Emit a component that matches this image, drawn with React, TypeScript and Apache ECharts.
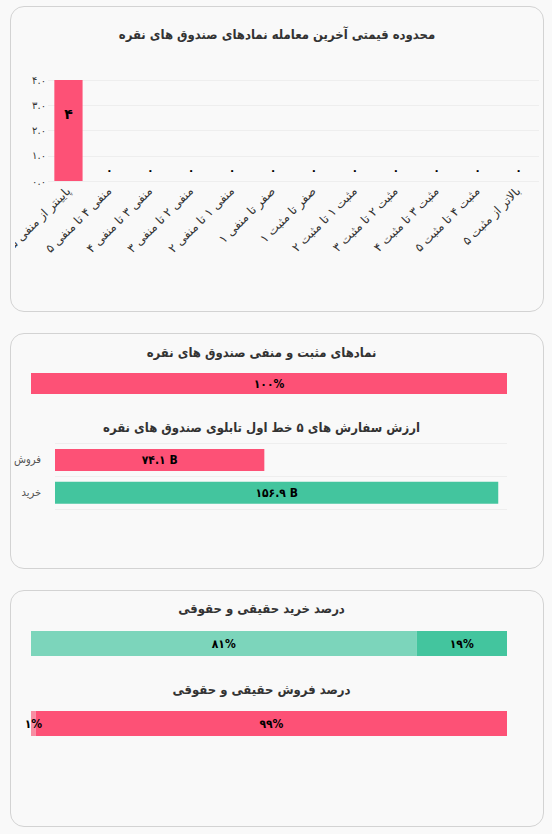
import React, { useEffect, useRef } from "react";
import * as echarts from "echarts";

// ---------- data ----------
const priceRangeTitle = "محدوده قیمتی آخرین معامله نمادهای صندوق های نقره";
const priceRangeCategories = [
  "پایینتر از منفی ۵",
  "منفی ۴ تا منفی ۵",
  "منفی ۳ تا منفی ۴",
  "منفی ۲ تا منفی ۳",
  "منفی ۱ تا منفی ۲",
  "صفر تا منفی ۱",
  "صفر تا مثبت ۱",
  "مثبت ۱ تا مثبت ۲",
  "مثبت ۲ تا مثبت ۳",
  "مثبت ۳ تا مثبت ۴",
  "مثبت ۴ تا مثبت ۵",
  "بالاتر از مثبت ۵",
];
const priceRangeCounts = [4, 0, 0, 0, 0, 0, 0, 0, 0, 0, 0, 0];

const posNegTitle = "نمادهای مثبت و منفی صندوق های نقره";
const posNegShare = [100];

const orderTitle = "ارزش سفارش های ۵ خط اول تابلوی صندوق های نقره";
const orderSides = ["فروش", "خرید"];
const orderValuesB = [74.1, 156.9];

const buyTitle = "درصد خرید حقیقی و حقوقی";
const buyShares = [81, 19];
const sellTitle = "درصد فروش حقیقی و حقوقی";
const sellShares = [1, 99];

// ---------- style ----------
const PINK = "#fd5176";
const PINK_LIGHT = "#f88da2";
const GREEN = "#43c59e";
const GREEN_LIGHT = "#7cd5bb";
const FONT = "DejaVu Sans";
const FONT_C = "DejaVu Sans Condensed";
const BG = "#f9f9f9";

const fa = (s: string) => s.replace(/\d/g, (d) => "۰۱۲۳۴۵۶۷۸۹"[+d]);

const titleText = (text: string, x: number, y: number) => ({
  type: "text",
  x,
  y,
  silent: true,
  style: {
    text,
    fill: "#333",
    font: `bold 13px "${FONT_C}", "${FONT}"`,
    align: "center",
    verticalAlign: "middle",
  },
});

function Chart({ option, style }: { option: any; style: React.CSSProperties }) {
  const ref = useRef<HTMLDivElement>(null);
  useEffect(() => {
    if (!ref.current) return;
    const chart = echarts.init(ref.current, undefined, { renderer: "svg" });
    chart.setOption(option);
    return () => chart.dispose();
  }, [option]);
  return <div ref={ref} style={{ position: "absolute", ...style }} />;
}

// chart 1 : container left 15, top 0
const option1 = {
  animation: false,
  textStyle: { fontFamily: FONT },
  graphic: [titleText(priceRangeTitle, 262, 34)],
  grid: { left: 33, right: 13, top: 80, bottom: 139, containLabel: false, outerBoundsMode: "none" },
  xAxis: {
    type: "category",
    data: priceRangeCategories,
    axisLine: { show: false },
    axisTick: { show: false },
    axisLabel: {
      interval: 0,
      rotate: 45,
      fontSize: 12,
      color: "#333",
      margin: 8,
      fontFamily: FONT,
    },
  },
  yAxis: {
    type: "value",
    min: 0,
    max: 4,
    interval: 1,
    axisLine: { show: false },
    axisTick: { show: false },
    splitLine: { lineStyle: { color: "#eeeeee" } },
    axisLabel: {
      fontSize: 10,
      color: "#333",
      margin: 2,
      fontFamily: FONT,
      formatter: (v: number) => fa(v.toFixed(1)),
    },
  },
  series: [
    {
      type: "bar",
      data: priceRangeCounts.map((v) =>
        v > 0
          ? {
              value: v,
              label: { position: ["50%", "34%"], align: "center", verticalAlign: "middle", fontSize: 14 },
            }
          : v
      ),
      itemStyle: { color: PINK },
      label: {
        show: true,
        position: "top",
        color: "#000",
        fontWeight: "bold",
        fontSize: 11,
        fontFamily: FONT,
        formatter: (p: any) => fa(String(p.value)),
      },
    },
  ],
};

// chart 2 : container left 0, top 320
const option2 = {
  animation: false,
  textStyle: { fontFamily: FONT },
  graphic: [titleText(posNegTitle, 261.5, 32), titleText(orderTitle, 261.5, 107)],
  grid: [
    { left: 31, right: 45, top: 53, height: 21, outerBoundsMode: "none" },
    { left: 55, right: 45, top: 123.5, height: 65.5, outerBoundsMode: "none" },
  ],
  xAxis: [
    { type: "value", gridIndex: 0, min: 0, max: 100, show: false },
    { type: "value", gridIndex: 1, min: 0, max: 160, show: false },
  ],
  yAxis: [
    { type: "category", gridIndex: 0, data: [""], show: false },
    {
      type: "category",
      gridIndex: 1,
      data: orderSides,
      inverse: true,
      axisLine: { show: false },
      axisTick: { show: false },
      splitLine: { show: true, lineStyle: { color: "#eeeeee" } },
      axisLabel: { fontSize: 11, color: "#555", margin: 14, fontFamily: FONT_C },
    },
  ],
  series: [
    {
      type: "bar",
      xAxisIndex: 0,
      yAxisIndex: 0,
      data: posNegShare,
      barWidth: 21,
      itemStyle: { color: PINK },
      label: {
        show: true,
        position: "inside",
        color: "#000",
        fontWeight: "bold",
        fontSize: 12,
        fontFamily: FONT_C,
        formatter: (p: any) => fa(String(p.value)) + "%",
      },
    },
    {
      type: "bar",
      xAxisIndex: 1,
      yAxisIndex: 1,
      barWidth: 22,
      data: orderValuesB.map((v, i) => ({
        value: v,
        itemStyle: { color: i === 0 ? PINK : GREEN },
      })),
      label: {
        show: true,
        position: "inside",
        color: "#000",
        fontWeight: "bold",
        fontSize: 12,
        fontFamily: FONT_C,
        formatter: (p: any) => fa(p.value.toFixed(1)) + " B",
      },
    },
  ],
};

// chart 3 : container left 0, top 580
const stackLabel = {
  show: true,
  position: "inside",
  color: "#000",
  fontWeight: "bold",
  fontSize: 12,
  fontFamily: FONT_C,
  formatter: (p: any) => fa(String(p.value)) + "%",
};
const option3 = {
  animation: false,
  textStyle: { fontFamily: FONT },
  graphic: [titleText(buyTitle, 261.5, 28), titleText(sellTitle, 261.5, 109)],
  grid: [
    { left: 31, right: 45, top: 51, height: 25, outerBoundsMode: "none" },
    { left: 31, right: 45, top: 131, height: 25, outerBoundsMode: "none" },
  ],
  xAxis: [
    { type: "value", gridIndex: 0, min: 0, max: 100, show: false },
    { type: "value", gridIndex: 1, min: 0, max: 100, show: false },
  ],
  yAxis: [
    { type: "category", gridIndex: 0, data: [""], show: false },
    { type: "category", gridIndex: 1, data: [""], show: false },
  ],
  series: [
    { type: "bar", stack: "buy", xAxisIndex: 0, yAxisIndex: 0, barWidth: 25, data: [buyShares[0]], itemStyle: { color: GREEN_LIGHT }, label: stackLabel },
    { type: "bar", stack: "buy", xAxisIndex: 0, yAxisIndex: 0, barWidth: 25, data: [buyShares[1]], itemStyle: { color: GREEN }, label: stackLabel },
    { type: "bar", stack: "sell", xAxisIndex: 1, yAxisIndex: 1, barWidth: 25, data: [sellShares[0]], itemStyle: { color: PINK_LIGHT }, label: stackLabel },
    { type: "bar", stack: "sell", xAxisIndex: 1, yAxisIndex: 1, barWidth: 25, data: [sellShares[1]], itemStyle: { color: PINK }, label: stackLabel },
  ],
};

const cardStyle = (top: number, height: number): React.CSSProperties => ({
  position: "absolute",
  left: 10,
  top,
  width: 534,
  height,
  boxSizing: "border-box",
  border: "1px solid #d3d3d3",
  borderRadius: 14,
  background: BG,
});

export default function App() {
  return (
    <div
      style={{
        position: "absolute",
        left: 0,
        top: 0,
        width: 552,
        height: 834,
        background: BG,
        overflow: "hidden",
        fontFamily: FONT,
      }}
    >
      <div style={cardStyle(6, 306)} />
      <div style={cardStyle(333, 236)} />
      <div style={cardStyle(590, 237)} />
      <Chart option={option1} style={{ left: 15, top: 0, width: 537, height: 320 }} />
      <Chart option={option2} style={{ left: 0, top: 320, width: 552, height: 260 }} />
      <Chart option={option3} style={{ left: 0, top: 580, width: 552, height: 254 }} />
    </div>
  );
}
